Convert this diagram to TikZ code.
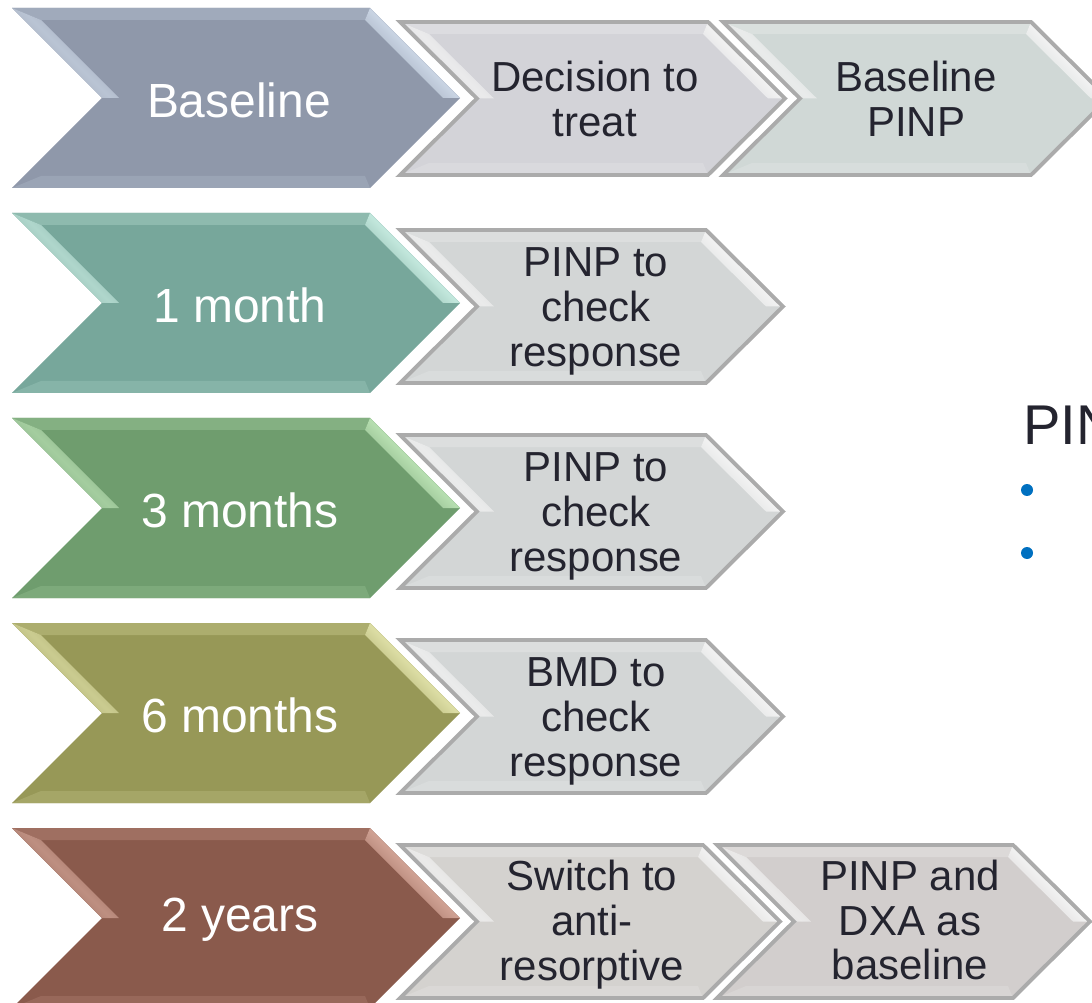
\documentclass[tikz,border=0pt]{standalone}
\usepackage{fontspec}
\setmainfont{Liberation Sans}
\usetikzlibrary{shapes.geometric}

\definecolor{stageblue}{HTML}{8F98AA}
\definecolor{stagebluelight}{HTML}{C8D3E2}
\definecolor{stageteal}{HTML}{77A79B}
\definecolor{stageteallight}{HTML}{C2E6DC}
\definecolor{stagegreen}{HTML}{6F9D6E}
\definecolor{stagegreenlight}{HTML}{B6DDB0}
\definecolor{stageolive}{HTML}{979857}
\definecolor{stageolivelight}{HTML}{DCDDA4}
\definecolor{stagebrown}{HTML}{8A5A4C}
\definecolor{stagebrownlight}{HTML}{CFA193}
\definecolor{stepgrey}{HTML}{D3D6D6}
\definecolor{steplilac}{HTML}{D3D3D8}
\definecolor{stepmint}{HTML}{D0D8D6}
\definecolor{stepsand}{HTML}{D4D2CF}
\definecolor{steprose}{HTML}{D2CECD}
\definecolor{steplight}{HTML}{F2F2F2}
\definecolor{stepedge}{HTML}{ABABAB}
\definecolor{inkdark}{HTML}{24242F}
\definecolor{dotblue}{HTML}{0070C0}

% chevron with bevelled edges:
% #1 left x, #2 centre y, #3 length, #4 half height, #5 depth,
% #6 fill, #7 highlight, #8 outline
\newcommand*{\stagearrow}[8]{%
  \fill[#6] (#1,#2-#4) -- (#1+#3-#5,#2-#4) -- (#1+#3,#2)
    -- (#1+#3-#5,#2+#4) -- (#1,#2+#4) -- (#1+#5,#2) -- cycle;
  \fill[#7!30!#6] (#1,#2-#4) -- (#1+#3-#5,#2-#4) -- (#1+#3-#5-5,#2-#4+12)
    -- (#1+29,#2-#4+12) -- cycle;
  \fill[#7!20!#6] (#1,#2+#4) -- (#1+#3-#5,#2+#4) -- (#1+#3-#5-5,#2+#4-12)
    -- (#1+29,#2+#4-12) -- cycle;
  \shade[top color=#6, bottom color=#6, middle color=#7, shading angle=-45]
    (#1+#3-#5,#2-#4) -- (#1+#3,#2) -- (#1+#3-17,#2)
    -- (#1+#3-#5-5,#2-#4+12) -- cycle;
  \shade[top color=#6, bottom color=#6, middle color=#7!75!#6, shading angle=-45]
    (#1,#2-#4) -- (#1+#5,#2) -- (#1+#5+17,#2)
    -- (#1+29,#2-#4+12) -- cycle;
  \draw[#8, line join=miter] (#1,#2-#4) -- (#1+#3-#5,#2-#4) -- (#1+#3,#2)
    -- (#1+#3-#5,#2+#4) -- (#1,#2+#4) -- (#1+#5,#2) -- cycle;
}
\newcommand*{\bigstage}[3]{% centre y, fill, highlight
  \stagearrow{12}{#1}{448}{90}{90}{#2}{#3}{draw=none}}
\newcommand*{\smallstage}[4][stepgrey]{% fill, left x, centre y, length
  \stagearrow{#2}{#3}{#4}{76.5}{77}{#1}{steplight}{stepedge, line width=2.2pt}}

\begin{document}
\begin{tikzpicture}[x=0.02cm, y=-0.02cm,
    bigtext/.style = {text=white, font=\fontsize{27.3}{30}\selectfont},
    steptext/.style = {text=inkdark, align=center,
                       font=\fontsize{23.9}{25.6}\selectfont},
    dot/.style = {circle, fill=dotblue, inner sep=0pt, minimum size=0.24cm}]
  \useasboundingbox (0,0) rectangle (1092,1003);
  \clip (0,0) rectangle (1092,1003);

  \bigstage{98}{stageblue}{stagebluelight}
  \smallstage[steplilac]{400}{98.5}{385}
  \smallstage[stepmint]{723}{98.5}{385}
  \node[bigtext] (base) at (239,100) {Baseline};
  \node[steptext] (treat) at (595,99) {Decision to\\treat};
  \node[steptext] (basepinp) at (916,99) {Baseline\\PINP};

  \bigstage{303}{stageteal}{stageteallight}
  \smallstage{400}{306.5}{383}
  \node[bigtext] (month1) at (240,305) {1 month};
  \node[steptext] (check1) at (596,311) {PINP to\\check\\response};

  \bigstage{508}{stagegreen}{stagegreenlight}
  \smallstage{400}{511.5}{383}
  \node[bigtext] (month3) at (240,510) {3 months};
  \node[steptext] (check3) at (596,516) {PINP to\\check\\response};

  \bigstage{713}{stageolive}{stageolivelight}
  \smallstage{400}{716.5}{383}
  \node[bigtext] (month6) at (240,715) {6 months};
  \node[steptext] (check6) at (596,721) {BMD to\\check\\response};

  \bigstage{918}{stagebrown}{stagebrownlight}
  \smallstage[stepsand]{400}{921.5}{380}
  \smallstage[steprose]{717}{921.5}{373}
  \node[bigtext] (year2) at (240,920) {2 years};
  \node[steptext] (switch) at (592,925) {Switch to\\anti-\\resorptive};
  \node[steptext] (dxa) at (910,920) {PINP and\\DXA as\\baseline};

  \node[text=inkdark, anchor=west, font=\fontsize{31.9}{34}\selectfont]
    (pinp) at (1017,425) {PIN};
  \node[dot] (dot1) at (1027,490) {};
  \node[dot] (dot2) at (1027,553) {};
\end{tikzpicture}
\end{document}
